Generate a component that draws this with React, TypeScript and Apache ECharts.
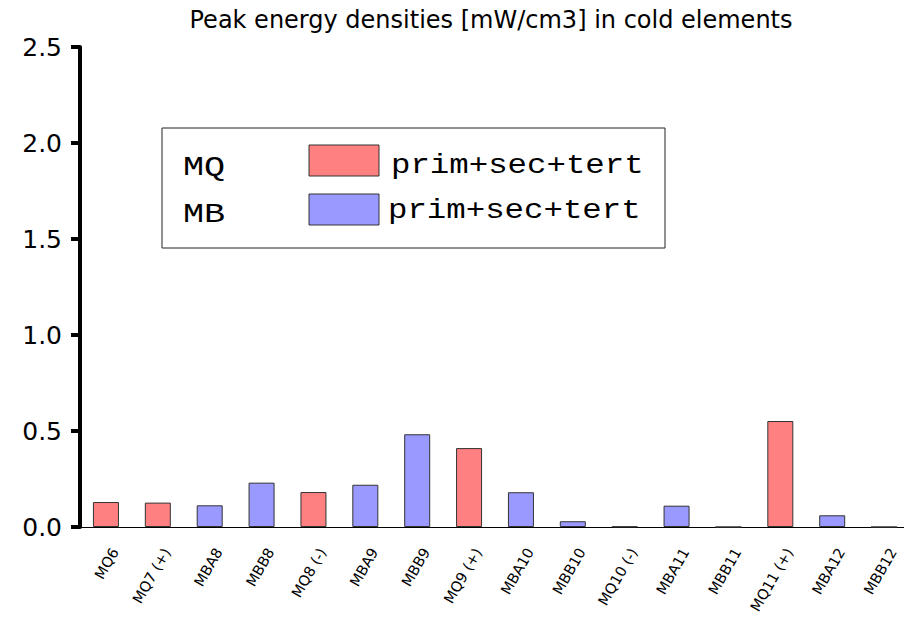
import React, { useEffect, useRef } from "react";
import * as echarts from "echarts";

const categories = [
  "MQ6", "MQ7 (+)", "MBA8", "MBB8", "MQ8 (-)", "MBA9", "MBB9", "MQ9 (+)",
  "MBA10", "MBB10", "MQ10 (-)", "MBA11", "MBB11", "MQ11 (+)", "MBA12", "MBB12",
];
const magnetTypes = [
  "MQ", "MQ", "MB", "MB", "MQ", "MB", "MB", "MQ",
  "MB", "MB", "MQ", "MB", "MB", "MQ", "MB", "MB",
];
const peakValues = [
  0.13, 0.127, 0.113, 0.231, 0.182, 0.22, 0.483, 0.411,
  0.181, 0.03, 0.002, 0.111, 0, 0.552, 0.061, 0,
];
const yTicks = [0, 0.5, 1.0, 1.5, 2.0, 2.5];
const legendRows = [
  { type: "MQ", label: "prim+sec+tert" },
  { type: "MB", label: "prim+sec+tert" },
];
const typeColors: Record<string, string> = { MQ: "#ff8080", MB: "#9999ff" };

export default function App() {
  const ref = useRef<HTMLDivElement>(null);
  useEffect(() => {
    if (!ref.current) return;
    const chart = echarts.init(ref.current, undefined, { renderer: "svg" });
    const sans = "DejaVu Sans";
    const mono = "Liberation Mono";
    const legendGraphics: any[] = [
      {
        type: "rect",
        shape: { x: 162, y: 128, width: 503, height: 120 },
        style: { fill: "#fff", stroke: "#222", lineWidth: 1 },
        z: 10,
      },
    ];
    legendRows.forEach((row, i) => {
      const swY = [145, 194][i];
      legendGraphics.push({
        type: "text",
        x: 183,
        y: [154, 201][i],
        scaleX: 1.3,
        style: {
          text: row.type,
          font: `27px "${mono}"`,
          fill: "#000",
        },
        z: 11,
      });
      legendGraphics.push({
        type: "rect",
        shape: { x: 309, y: swY, width: 70, height: 31 },
        style: { fill: typeColors[row.type], stroke: "#333", lineWidth: 1 },
        z: 11,
      });
      legendGraphics.push({
        type: "text",
        x: [391, 388][i],
        y: [152, 197][i],
        scaleX: 1.2,
        style: {
          text: row.label,
          font: `27px "${mono}"`,
          fill: "#000",
        },
        z: 11,
      });
    });

    chart.setOption({
      animation: false,
      title: {
        text: "Peak energy densities [mW/cm3] in cold elements",
        left: 486,
        textAlign: "center",
        top: 3,
        textStyle: { fontFamily: sans, fontSize: 24, fontWeight: "normal", color: "#000" },
      },
      grid: {
        left: 80,
        right: 2,
        top: 47,
        bottom: 94,
        containLabel: false,
        outerBoundsMode: "none",
      },
      xAxis: {
        type: "category",
        data: categories,
        axisLine: { lineStyle: { color: "#000", width: 1 } },
        axisTick: { length: 11, lineStyle: { color: "#555", width: 1.5 } },
        axisLabel: {
          rotate: 60,
          fontFamily: sans,
          fontSize: 14.5,
          color: "#000",
          margin: 17,
          interval: 0,
          verticalAlign: "top",
          padding: [3, 0, 0, 0],
        },
      },
      yAxis: {
        type: "value",
        min: yTicks[0],
        max: yTicks[yTicks.length - 1],
        interval: 0.5,
        axisLine: { show: true, lineStyle: { color: "#000", width: 4 } },
        axisTick: { show: true, length: 9, lineStyle: { color: "#000", width: 4 } },
        splitLine: { show: false },
        axisLabel: {
          fontFamily: sans,
          fontSize: 25,
          color: "#000",
          margin: 18,
          formatter: (v: number) => v.toFixed(1),
        },
      },
      series: [
        {
          type: "bar",
          barWidth: 26,
          data: peakValues.map((v, i) => ({
            value: v,
            itemStyle: {
              color: typeColors[magnetTypes[i]],
              borderColor: "#333",
              borderWidth: 1,
            },
          })),
        },
      ],
      graphic: legendGraphics,
    });
    return () => chart.dispose();
  }, []);
  return <div ref={ref} style={{ width: 912, height: 621, margin: -8 }} />;
}
